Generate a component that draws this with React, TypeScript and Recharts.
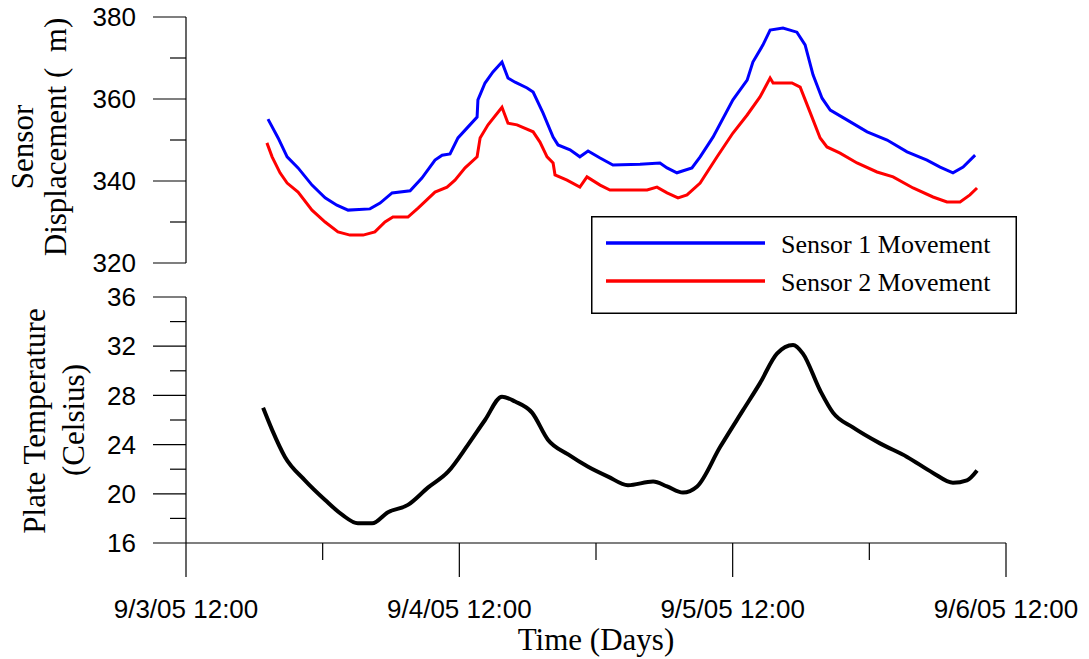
import React from 'react';
import { LineChart, Line, XAxis, YAxis, Legend } from 'recharts';

// Time axis: days since 9/3/05 12:00
const timeTicks = [0, 0.5, 1, 1.5, 2, 2.5, 3];
const timeTickLabels = ['9/3/05 12:00', '9/4/05 12:00', '9/5/05 12:00', '9/6/05 12:00'];
const dispTicks = [320, 330, 340, 350, 360, 370, 380];
const tempTicks = [16, 18, 20, 22, 24, 26, 28, 30, 32, 34, 36];

const sensor1Name = 'Sensor 1 Movement';
const sensor2Name = 'Sensor 2 Movement';

const s1Time = [0.300, 0.337, 0.370, 0.410, 0.461, 0.509, 0.552, 0.593, 0.673, 0.710, 0.754, 0.820, 0.863, 0.911, 0.937, 0.966, 0.995, 1.032, 1.065, 1.068, 1.094, 1.123, 1.156, 1.178, 1.204, 1.248, 1.270, 1.306, 1.343, 1.361, 1.405, 1.441, 1.471, 1.515, 1.562, 1.661, 1.734, 1.760, 1.796, 1.851, 1.881, 1.928, 2.001, 2.053, 2.074, 2.111, 2.137, 2.184, 2.235, 2.265, 2.294, 2.327, 2.357, 2.418, 2.492, 2.565, 2.638, 2.711, 2.759, 2.806, 2.843, 2.887];
const s1Value = [355.1, 350.5, 345.9, 343.2, 339.0, 335.9, 334.1, 332.9, 333.2, 334.6, 337.1, 337.6, 340.7, 345.1, 346.3, 346.6, 350.5, 353.2, 355.6, 359.8, 363.9, 366.6, 369.0, 365.1, 364.1, 362.7, 361.7, 356.6, 350.7, 348.8, 347.6, 345.9, 347.3, 345.6, 343.9, 344.1, 344.4, 343.2, 342.0, 343.2, 345.9, 350.7, 359.8, 364.6, 369.0, 373.2, 376.8, 377.3, 376.3, 373.2, 365.9, 360.2, 357.3, 354.9, 352.0, 350.0, 347.1, 345.1, 343.4, 342.0, 343.4, 346.3];

const s2Time = [0.296, 0.315, 0.344, 0.370, 0.410, 0.461, 0.509, 0.556, 0.600, 0.648, 0.691, 0.728, 0.757, 0.812, 0.849, 0.911, 0.955, 0.984, 1.021, 1.065, 1.076, 1.105, 1.156, 1.178, 1.211, 1.270, 1.295, 1.321, 1.343, 1.350, 1.394, 1.441, 1.467, 1.515, 1.551, 1.687, 1.723, 1.760, 1.800, 1.833, 1.881, 1.943, 2.001, 2.053, 2.100, 2.137, 2.148, 2.217, 2.247, 2.283, 2.320, 2.345, 2.393, 2.455, 2.528, 2.587, 2.660, 2.733, 2.784, 2.832, 2.868, 2.894];
const s2Value = [349.3, 345.9, 342.0, 339.5, 337.3, 332.9, 330.0, 327.6, 326.8, 326.8, 327.6, 330.0, 331.2, 331.2, 333.4, 337.3, 338.5, 340.2, 343.2, 345.9, 350.5, 353.7, 358.0, 354.1, 353.7, 352.0, 349.5, 345.9, 344.4, 341.5, 340.2, 338.5, 341.0, 339.0, 337.8, 337.8, 338.5, 337.1, 335.9, 336.6, 339.5, 345.9, 351.7, 356.1, 360.5, 365.1, 363.9, 363.9, 362.9, 356.8, 350.5, 348.3, 346.8, 344.4, 342.2, 341.0, 338.3, 336.1, 334.9, 334.9, 336.6, 338.3];

const tempTime = [0.282, 0.315, 0.362, 0.435, 0.509, 0.571, 0.629, 0.681, 0.739, 0.812, 0.885, 0.959, 1.032, 1.094, 1.156, 1.204, 1.266, 1.324, 1.398, 1.471, 1.544, 1.617, 1.709, 1.760, 1.818, 1.870, 1.954, 2.038, 2.100, 2.162, 2.221, 2.257, 2.320, 2.367, 2.440, 2.539, 2.638, 2.733, 2.806, 2.857, 2.894];
const tempValue = [27.0, 25.2, 23.0, 21.1, 19.5, 18.3, 17.6, 17.6, 18.5, 19.1, 20.5, 21.8, 24.0, 26.0, 27.9, 27.5, 26.6, 24.4, 23.2, 22.2, 21.4, 20.7, 21.0, 20.6, 20.1, 20.6, 23.8, 26.8, 29.0, 31.4, 32.1, 31.4, 28.4, 26.6, 25.4, 24.1, 23.0, 21.7, 20.9, 21.1, 21.9];

const s1Data = s1Time.map((t, i) => ({ t, v: s1Value[i] }));
const s2Data = s2Time.map((t, i) => ({ t, v: s2Value[i] }));
const tempData = tempTime.map((t, i) => ({ t, v: tempValue[i] }));

const SANS = 'Liberation Sans, Arial, sans-serif';
const SERIF = 'Liberation Serif, Times New Roman, serif';

const DispTick = (props: any) => {
  const { x, y, payload } = props;
  const major = payload.value % 20 === 0;
  return (
    <g>
      <line x1={x - (major ? 33 : 16)} x2={x} y1={y} y2={y} stroke="#000" strokeWidth={1.2} />
      {major && (
        <text x={x - 50} y={y} dy="0.35em" textAnchor="end" fontFamily={SANS} fontSize={26} fill="#000">
          {payload.value}
        </text>
      )}
    </g>
  );
};

const TempTick = (props: any) => {
  const { x, y, payload } = props;
  const major = payload.value % 4 === 0;
  return (
    <g>
      <line x1={x - (major ? 33 : 16)} x2={x} y1={y} y2={y} stroke="#000" strokeWidth={1.2} />
      {major && (
        <text x={x - 50} y={y} dy="0.35em" textAnchor="end" fontFamily={SANS} fontSize={26} fill="#000">
          {payload.value}
        </text>
      )}
    </g>
  );
};

const TimeTick = (props: any) => {
  const { x, y, payload } = props;
  const major = Number.isInteger(payload.value);
  return (
    <g>
      <line x1={x} x2={x} y1={y} y2={y + (major ? 34 : 17)} stroke="#000" strokeWidth={1.2} />
      {major && (
        <text x={x} y={y + 75} textAnchor="middle" fontFamily={SANS} fontSize={26} fill="#000">
          {timeTickLabels[payload.value]}
        </text>
      )}
    </g>
  );
};

const LegendBox = (props: any) => {
  const payload = (props.payload || []).filter((p: any) => p.value);
  return (
    <svg width={426} height={98} style={{ display: 'block' }}>
      <rect x={0.75} y={0.75} width={424.5} height={96.5} fill="#fff" stroke="#000" strokeWidth={1.5} />
      {payload.map((p: any, i: number) => (
        <g key={i}>
          <line x1={15} x2={174} y1={27 + i * 38} y2={27 + i * 38} stroke={p.color} strokeWidth={3.5} />
          <text x={190} y={37 + i * 38} fontFamily={SERIF} fontSize={26} fill="#000">
            {p.value}
          </text>
        </g>
      ))}
    </svg>
  );
};

const TopTitle = () => (
  <g>
    <text transform="translate(33,147) rotate(-90)" textAnchor="middle" fontFamily={SERIF} fontSize={31} fill="#000">
      Sensor
    </text>
    <text transform="translate(66,137) rotate(-90)" textAnchor="middle" fontFamily={SERIF} fontSize={31} fill="#000">
      {'Displacement (\u2002m)'}
    </text>
  </g>
);

const BottomTitle = () => (
  <g>
    <text transform="translate(45,141) rotate(-90)" textAnchor="middle" fontFamily={SERIF} fontSize={31} fill="#000">
      Plate Temperature
    </text>
    <text transform="translate(84,140) rotate(-90)" textAnchor="middle" fontFamily={SERIF} fontSize={31} fill="#000">
      (Celsius)
    </text>
  </g>
);

export default function App() {
  return (
    <div style={{ position: 'absolute', left: 0, top: 0, width: 1089, height: 659, background: '#fff' }}>
      <div style={{ position: 'absolute', left: 0, top: 0 }}>
        <LineChart width={1089} height={330} margin={{ top: 17, right: 83, bottom: 67, left: 0 }}>
          <XAxis dataKey="t" type="number" domain={[0, 3]} ticks={timeTicks} hide allowDuplicatedCategory={false} />
          <YAxis
            type="number"
            domain={[320, 380]}
            ticks={dispTicks}
            interval={0}
            width={186}
            tickSize={0}
            tickMargin={0}
            tickLine={false}
            axisLine={{ stroke: '#000', strokeWidth: 1.2 }}
            tick={<DispTick />}
            label={() => <TopTitle />}
          />
          <Line data={s1Data} dataKey="v" name={sensor1Name} type="linear" stroke="#0000ff" strokeWidth={3} dot={false} isAnimationActive={false} />
          <Line data={s2Data} dataKey="v" name={sensor2Name} type="linear" stroke="#ff0000" strokeWidth={3} dot={false} isAnimationActive={false} />
          <Legend
            layout="vertical"
            align="center"
            verticalAlign="middle"
            content={<LegendBox />}
            wrapperStyle={{ position: 'absolute', left: 591, top: 216, width: 426, height: 98 }}
          />
        </LineChart>
      </div>
      <div style={{ position: 'absolute', left: 0, top: 280 }}>
        <LineChart width={1089} height={379} margin={{ top: 17, right: 83, bottom: 0, left: 0 }}>
          <XAxis
            dataKey="t"
            type="number"
            domain={[0, 3]}
            ticks={timeTicks}
            interval={0}
            height={116}
            tickSize={0}
            tickMargin={0}
            tickLine={false}
            axisLine={{ stroke: '#000', strokeWidth: 1.2 }}
            tick={<TimeTick />}
            allowDuplicatedCategory={false}
            label={{ value: 'Time (Days)', position: 'insideBottom', offset: 9, fontFamily: SERIF, fontSize: 31, fill: '#000' }}
          />
          <YAxis
            type="number"
            domain={[16, 36]}
            ticks={tempTicks}
            interval={0}
            width={186}
            tickSize={0}
            tickMargin={0}
            tickLine={false}
            axisLine={{ stroke: '#000', strokeWidth: 1.2 }}
            tick={<TempTick />}
            label={() => <BottomTitle />}
          />
          <Line data={tempData} dataKey="v" name="Plate Temperature" type="monotone" stroke="#000" strokeWidth={4} dot={false} isAnimationActive={false} legendType="none" />
        </LineChart>
      </div>
    </div>
  );
}
